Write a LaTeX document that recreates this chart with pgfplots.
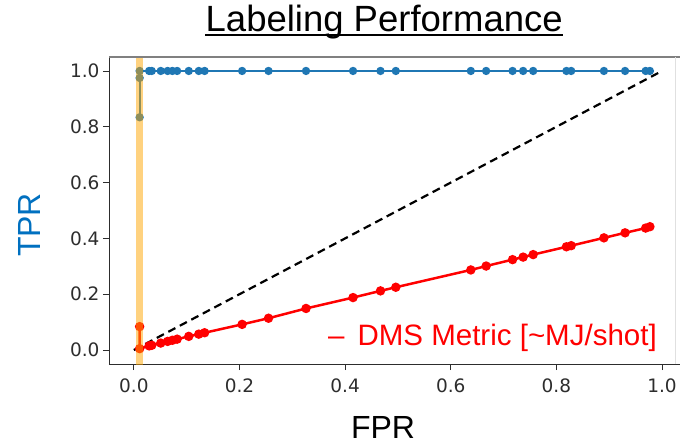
\documentclass[border=0pt]{standalone}
\usepackage{pgfplots}
\pgfplotsset{compat=1.18}
\usepackage{fontspec}
\setmainfont{Liberation Sans}
\newfontfamily\dejavu{DejaVu Sans}
\definecolor{mplblue}{RGB}{31,119,180}
\definecolor{tprblue}{RGB}{0,112,192}
\definecolor{tickgray}{RGB}{45,45,45}
\definecolor{bandorange}{RGB}{255,165,0}

\pgfplotstableread{
x y
0.011 0.834
0.011 0.975
0.011 1.0
0.029 1.0
0.034 1.0
0.051 1.0
0.064 1.0
0.073 1.0
0.082 1.0
0.104 1.0
0.123 1.0
0.134 1.0
0.205 1.0
0.255 1.0
0.326 1.0
0.415 1.0
0.467 1.0
0.496 1.0
0.638 1.0
0.667 1.0
0.717 1.0
0.737 1.0
0.756 1.0
0.819 1.0
0.828 1.0
0.890 1.0
0.930 1.0
0.969 1.0
0.977 1.0
}\bluedata

\pgfplotstableread{
x y
0.011 0.084
0.011 0.005
0.029 0.015
0.034 0.017
0.051 0.025
0.064 0.031
0.073 0.035
0.082 0.039
0.104 0.049
0.123 0.057
0.134 0.062
0.205 0.092
0.255 0.114
0.326 0.149
0.415 0.188
0.467 0.212
0.496 0.225
0.638 0.287
0.667 0.301
0.717 0.324
0.737 0.333
0.756 0.342
0.819 0.370
0.828 0.374
0.890 0.402
0.930 0.420
0.969 0.437
0.977 0.442
}\reddata

\begin{document}
\begin{tikzpicture}
\useasboundingbox (-109bp,-82bp) rectangle (573bp,364bp);
\begin{axis}[
  at={(0,0)}, anchor=south west,
  scale only axis,
  width=571bp, height=307bp,
  xmin=-0.047, xmax=1.034,
  ymin=-0.05, ymax=1.05,
  axis lines=left,
  axis line style={-, draw=tickgray, line width=0.9bp},
  tick align=outside,
  major tick length=6bp,
  tick style={draw=tickgray, line width=0.9bp},
  xtick={0,0.2,0.4,0.6,0.8,1.0},
  ytick={0,0.2,0.4,0.6,0.8,1.0},
  xticklabels={0.0,0.2,0.4,0.6,0.8,1.0},
  yticklabels={0.0,0.2,0.4,0.6,0.8,1.0},
  /pgf/number format/assume math mode=true,
  ticklabel style={font=\dejavu\fontsize{18.5bp}{20bp}\selectfont, text=tickgray},
  xticklabel style={yshift=-5bp},
  title={Labeling Performance},
  title style={name=ttl, at={(0.482,1.065)}, anchor=base, inner sep=0pt,
    font=\fontsize{36.5bp}{40bp}\selectfont},
  xlabel={FPR},
  xlabel style={at={(0.48,-0.244)}, anchor=base, inner sep=0pt,
    font=\fontsize{32bp}{36bp}\selectfont},
  ylabel={TPR},
  ylabel style={at={(-0.1384,0.4528)}, anchor=center, inner sep=0pt,
    rotate=0, text=tprblue, font=\fontsize{32bp}{36bp}\selectfont},
  legend style={at={(0.3835,0.056)}, anchor=south west, draw=none, fill=none,
    inner sep=0pt, font=\fontsize{29.5bp}{32bp}\selectfont, text=red,
    nodes={inner sep=0pt}},
  legend cell align=left,
  clip=true,
  clip marker paths=true,
]
\addplot [black, line width=2.2bp, dash pattern=on 8bp off 5bp, forget plot]
  coordinates {(0,0) (1,1)};
\addplot [mplblue, line width=2.2bp, mark=*, mark size=3bp, mark options={fill=mplblue, draw=mplblue, solid}, forget plot]
  table [x=x, y=y] {\bluedata};
\addplot [red, line width=2.5bp, mark=*, mark size=3.4bp, mark options={fill=red, draw=red, solid},
  legend image code/.code={}]
  table [x=x, y=y] {\reddata};
\addlegendentry{\textendash\hspace{13bp}DMS Metric [\textasciitilde MJ/shot]}
\addplot [fill=bandorange, fill opacity=0.5, draw=none, forget plot]
  coordinates {(0.004,-0.06) (0.018,-0.06) (0.018,1.06) (0.004,1.06)} -- cycle;
\end{axis}
\draw[draw=black!50, line width=1.2bp] (0,307bp) -- (571bp,307bp);
\draw[draw=black!12, line width=0.9bp] (566bp,0) -- (566bp,307bp);
\draw[line width=1.8bp] ([yshift=-4bp]ttl.base west) -- ([yshift=-4bp]ttl.base east);
\end{tikzpicture}
\end{document}
